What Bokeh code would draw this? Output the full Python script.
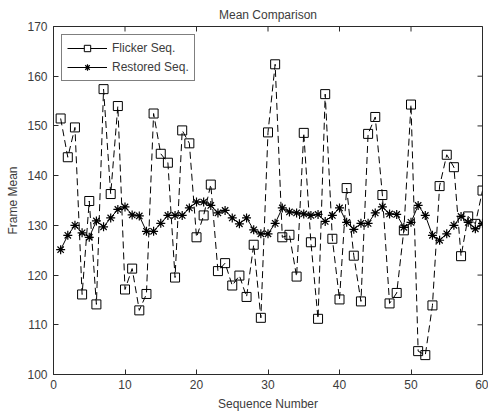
import math
from bokeh.plotting import figure
from bokeh.models import ColumnDataSource, Range1d, Legend, LegendItem
from bokeh.embed import file_html
from bokeh.resources import INLINE

# ---- data ----
seq = list(range(1, 61))
flicker = [151.5, 143.7, 149.7, 116.1, 134.9, 114.1, 157.4, 136.3, 154.0, 117.1,
           121.3, 112.9, 116.2, 152.5, 144.4, 142.6, 119.5, 149.1, 146.5, 127.6,
           132.0, 138.2, 120.8, 122.4, 117.9, 119.9, 115.6, 126.1, 111.4, 148.7,
           162.4, 127.6, 128.1, 119.7, 148.6, 126.6, 111.2, 156.4, 127.3, 115.1,
           137.5, 123.9, 114.7, 148.4, 151.8, 136.1, 114.3, 116.4, 129.0, 154.3,
           104.7, 103.9, 113.9, 137.9, 144.2, 141.7, 123.8, 131.8, 130.3, 137.0]
restored = [125.1, 128.0, 130.0, 128.5, 127.6, 130.9, 129.7, 131.5, 133.2, 133.7,
            132.1, 131.9, 128.8, 128.8, 130.4, 132.0, 132.0, 132.0, 133.5, 134.7,
            134.7, 134.0, 132.5, 133.0, 131.5, 130.3, 131.5, 129.1, 128.3, 128.3,
            130.4, 133.5, 132.7, 132.5, 132.3, 132.0, 132.2, 130.8, 132.0, 133.5,
            130.6, 129.2, 130.4, 130.4, 132.5, 133.7, 132.3, 132.2, 129.6, 130.6,
            134.0, 132.0, 128.0, 127.0, 128.3, 130.0, 131.8, 130.6, 129.3, 130.4]
x_ticks = [0, 10, 20, 30, 40, 50, 60]
y_ticks = [100, 110, 120, 130, 140, 150, 160, 170]
title_text = "Mean Comparison"
x_label = "Sequence Number"
y_label = "Frame Mean"
series_names = ["Flicker Seq.", "Restored Seq."]

FONT = "Liberation Sans"
AX = "#2a2a2a"
TXT = "#3c3c3c"

src = ColumnDataSource(dict(x=seq, f=flicker, r=restored))

p = figure(width=488, height=414, output_backend="svg", toolbar_location=None,
           x_range=Range1d(x_ticks[0], x_ticks[-1]), y_range=Range1d(y_ticks[0], y_ticks[-1]),
           title=title_text, x_axis_label=x_label, y_axis_label=y_label,
           min_border_left=53, min_border_right=6, min_border_top=25, min_border_bottom=40)

p.grid.visible = False
p.outline_line_color = AX
p.background_fill_color = "white"
p.border_fill_color = "white"

p.title.align = "center"
p.title.text_font = FONT
p.title.text_font_size = "12px"
p.title.text_font_style = "normal"
p.title.text_color = TXT
p.title.standoff = 10

for ax, tk in ((p.xaxis[0], x_ticks), (p.yaxis[0], y_ticks)):
    ax.ticker = tk
    ax.major_tick_in = 5
    ax.major_tick_out = 0
    ax.minor_tick_line_color = None
    ax.axis_line_color = AX
    ax.major_tick_line_color = AX
    ax.major_label_text_font = FONT
    ax.major_label_text_font_size = "12px"
    ax.major_label_text_color = TXT
    ax.axis_label_text_font = FONT
    ax.axis_label_text_font_size = "12px"
    ax.axis_label_text_font_style = "normal"
    ax.axis_label_text_color = TXT
p.xaxis[0].major_label_standoff = 5
p.xaxis[0].axis_label_standoff = 5
p.yaxis[0].major_label_standoff = 6
p.yaxis[0].axis_label_standoff = 4

# mirrored ticks on the top and right edges of the box (clipped to the frame)
p.scatter(x=x_ticks, y=[y_ticks[-1]] * len(x_ticks), marker="dash", angle=math.pi / 2,
          size=10, line_color=AX, line_width=1)
p.scatter(x=[x_ticks[-1]] * len(y_ticks), y=y_ticks, marker="dash", angle=0,
          size=10, line_color=AX, line_width=1)

# data
p.line("x", "f", source=src, line_color="black", line_width=1, line_dash="7 4")
p.scatter("x", "f", source=src, marker="square", size=9, line_color="black",
          fill_color="white", fill_alpha=0.0, line_width=1)
p.line("x", "r", source=src, line_color="black", line_width=1)
p.scatter("x", "r", source=src, marker="asterisk", size=9, line_color="black", line_width=1.2)

# legend glyphs (solid line + marker), not drawn in the plot area
nan_src = ColumnDataSource(dict(x=[float("nan")], y=[float("nan")]))
l1 = p.line("x", "y", source=nan_src, line_color="black", line_width=1)
m1 = p.scatter("x", "y", source=nan_src, marker="square", size=9, line_color="black",
               fill_color="white", line_width=1)
l2 = p.line("x", "y", source=nan_src, line_color="black", line_width=1)
m2 = p.scatter("x", "y", source=nan_src, marker="asterisk", size=9, line_color="black",
               line_width=1.2)

legend = Legend(items=[LegendItem(label=series_names[0], renderers=[l1, m1]),
                       LegendItem(label=series_names[1], renderers=[l2, m2])],
                location="top_left", margin=8, padding=5, spacing=3,
                glyph_width=40, glyph_height=16, label_height=16, label_standoff=5,
                label_text_font=FONT, label_text_font_size="12px", label_text_color=TXT,
                border_line_color="black", border_line_width=1,
                background_fill_color="white", background_fill_alpha=1.0)
p.add_layout(legend)

open("out.html", "w").write(file_html(p, INLINE))
